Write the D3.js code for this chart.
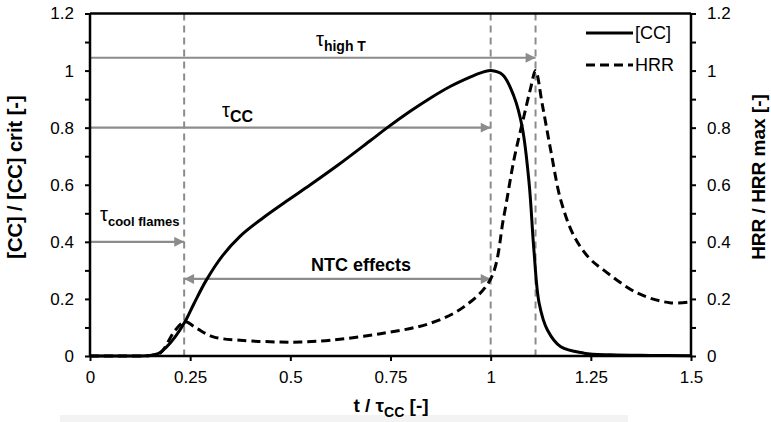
<!DOCTYPE html>
<html lang="en">
<head>
<meta charset="utf-8">
<title>CC and HRR</title>
<script src="https://d3js.org/d3.v7.min.js"></script>
<style>
  body { margin: 0; background: #fff; }
  svg text { font-family: "Liberation Sans", Arial, sans-serif; }
</style>
</head>
<body>
<script>
// data
const tCC  = [0, 0.1, 0.15, 0.17, 0.19, 0.2125, 0.237, 0.26, 0.29, 0.33, 0.375, 0.43, 0.49, 0.55, 0.62, 0.7, 0.742, 0.8, 0.85, 0.9, 0.95, 0.975, 1.0, 1.03, 1.058, 1.079, 1.096, 1.108, 1.121, 1.142, 1.175, 1.233, 1.3, 1.4, 1.5];
const vCC  = [0, 0, 0.002, 0.008, 0.03, 0.067, 0.12, 0.185, 0.265, 0.35, 0.42, 0.482, 0.542, 0.6, 0.67, 0.755, 0.8, 0.858, 0.904, 0.945, 0.978, 0.992, 1.0, 0.985, 0.91, 0.8, 0.605, 0.37, 0.185, 0.09, 0.032, 0.01, 0.004, 0.002, 0.001];
const tHRR = [0, 0.1, 0.15, 0.175, 0.2125, 0.237, 0.267, 0.308, 0.375, 0.475, 0.525, 0.6, 0.725, 0.85, 0.933, 1.0, 1.033, 1.058, 1.083, 1.1, 1.112, 1.129, 1.15, 1.175, 1.208, 1.246, 1.283, 1.367, 1.45, 1.5];
const vHRR = [0, 0, 0.002, 0.01, 0.09, 0.12, 0.096, 0.067, 0.055, 0.049, 0.049, 0.055, 0.078, 0.115, 0.172, 0.27, 0.49, 0.687, 0.84, 0.94, 1.0, 0.88, 0.72, 0.546, 0.42, 0.343, 0.3, 0.22, 0.186, 0.19];
const xTicks = [0, 0.25, 0.5, 0.75, 1, 1.25, 1.5];
const yTicks = [0, 0.2, 0.4, 0.6, 0.8, 1, 1.2];
const yMinor = d3.range(0, 1.21, 0.1);
const eventT = [0.235, 1.0, 1.112];
// arrows: level, start, end, two-headed?
const arrowY    = [1.045, 0.8, 0.4, 0.27];
const arrowFrom = [0, 0, 0, 0.235];
const arrowTo   = [1.112, 1.0, 0.235, 1.0];
const arrowBoth = [false, false, false, true];

const W = 771, H = 422;
const m = {left: 90, right: 80, top: 13.5, bottom: 66};

const svg = d3.select("body").append("svg").attr("width", W).attr("height", H);

// faint grey band at the bottom of the original image
svg.append("rect").attr("x", 60).attr("y", 415).attr("width", 568).attr("height", 7).attr("fill", "#f3f3f3");

const x = d3.scaleLinear().domain([0, 1.5]).range([m.left, W - m.right]);
const y = d3.scaleLinear().domain([0, 1.2]).range([H - m.bottom, m.top]);

const grey = "#8c8c8c";

// dashed event lines
svg.selectAll(".ev").data(eventT).enter().append("line")
  .attr("x1", d => x(d)).attr("x2", d => x(d))
  .attr("y1", y(1.2)).attr("y2", y(0))
  .attr("stroke", grey).attr("stroke-width", 2).attr("stroke-dasharray", "7,5");

// arrow heads
const defs = svg.append("defs");
defs.append("marker").attr("id", "ah").attr("viewBox", "0 0 10 10")
  .attr("refX", 10).attr("refY", 5).attr("markerWidth", 5).attr("markerHeight", 4.5)
  .attr("orient", "auto-start-reverse").attr("markerUnits", "strokeWidth")
  .append("path").attr("d", "M0,0L10,5L0,10Z").attr("fill", grey);

arrowY.forEach((v, i) => {
  const l = svg.append("line")
    .attr("x1", x(arrowFrom[i]) + (arrowBoth[i] ? 0 : 1)).attr("x2", x(arrowTo[i]))
    .attr("y1", y(v)).attr("y2", y(v))
    .attr("stroke", grey).attr("stroke-width", 2.2)
    .attr("marker-end", "url(#ah)");
  if (arrowBoth[i]) l.attr("marker-start", "url(#ah)");
});

// curves
const line = d3.line().x(d => x(d[0])).y(d => y(Math.max(0, d[1]))).curve(d3.curveCatmullRom.alpha(0.5));
svg.append("path").datum(d3.zip(tHRR, vHRR)).attr("d", line)
  .attr("fill", "none").attr("stroke", "#000").attr("stroke-width", 3).attr("stroke-dasharray", "9,5");
svg.append("path").datum(d3.zip(tCC, vCC)).attr("d", line)
  .attr("fill", "none").attr("stroke", "#000").attr("stroke-width", 3);

// axes
const fs = "17px";
const lab = d => yTicks.some(t => Math.abs(t - d) < 1e-6) ? d3.format("")(+d.toFixed(1)) : "";
const gx = svg.append("g").attr("transform", `translate(0,${y(0)})`)
  .call(d3.axisBottom(x).tickValues(xTicks).tickFormat(d3.format("")).tickSize(5).tickPadding(10));
const gl = svg.append("g").attr("transform", `translate(${x(0)},0)`)
  .call(d3.axisLeft(y).tickValues(yMinor).tickFormat(lab).tickSize(5).tickPadding(11));
const gr = svg.append("g").attr("transform", `translate(${x(1.5)},0)`)
  .call(d3.axisRight(y).tickValues(yMinor).tickFormat(lab).tickSize(5).tickPadding(11));
[gx, gl, gr].forEach(g => {
  g.select(".domain").attr("stroke-width", 2.5);
  g.selectAll(".tick line").attr("stroke-width", 2);
  g.selectAll("text").attr("font-size", fs).attr("fill", "#000")
    .style("font-family", "'Liberation Sans', Arial, sans-serif");
});
gx.selectAll(".domain").attr("d", `M${x(0)},0H${x(1.5)}`);
gl.selectAll(".domain").attr("d", `M0,${y(0)}V${y(1.2)}`);
gr.selectAll(".domain").attr("d", `M0,${y(0)}V${y(1.2)}`);
// top frame
svg.append("line").attr("x1", x(0)).attr("x2", x(1.5)).attr("y1", y(1.2)).attr("y2", y(1.2))
  .attr("stroke", "#000").attr("stroke-width", 2.5);

// axis titles
const xt = svg.append("text").attr("x", 391).attr("y", 412).attr("text-anchor", "middle")
  .attr("font-size", "19px").attr("font-weight", "bold");
xt.append("tspan").text("t / τ");
xt.append("tspan").attr("dy", 5).attr("font-size", "14px").text("CC");
xt.append("tspan").attr("dy", -5).text(" [-]");

svg.append("text").attr("transform", `translate(22,177) rotate(-90)`)
  .attr("text-anchor", "middle").attr("font-size", "20px").attr("font-weight", "bold")
  .text("[CC] / [CC] crit [-]");
svg.append("text").attr("transform", `translate(765,177) rotate(-90)`)
  .attr("text-anchor", "middle").attr("font-size", "19px").attr("font-weight", "bold")
  .text("HRR / HRR max [-]");

// annotations
function tau(px, py, sub, sz) {
  const t = svg.append("text").attr("x", px).attr("y", py).attr("font-size", "20px");
  t.append("tspan").text("τ");
  t.append("tspan").attr("dy", 5).attr("font-size", sz).attr("font-weight", "bold").text(sub);
  return t;
}
tau(316, 46, "high T", "14px");
tau(222, 117, "CC", "16px");
tau(100, 221, "cool flames", "13px");
svg.append("text").attr("x", 361).attr("y", 271).attr("text-anchor", "middle")
  .attr("font-size", "18px").attr("font-weight", "bold").text("NTC effects");

// legend
const legNames = ["[CC]", "HRR"];
const legDash = [null, "9,5"];
legNames.forEach((n, i) => {
  const ly = 33 + i * 32;
  svg.append("line").attr("x1", 586).attr("x2", 633).attr("y1", ly).attr("y2", ly)
    .attr("stroke", "#000").attr("stroke-width", 3).attr("stroke-dasharray", legDash[i]);
  svg.append("text").attr("x", 635).attr("y", ly + 6).attr("font-size", "18px").text(n);
});
</script>
</body>
</html>
